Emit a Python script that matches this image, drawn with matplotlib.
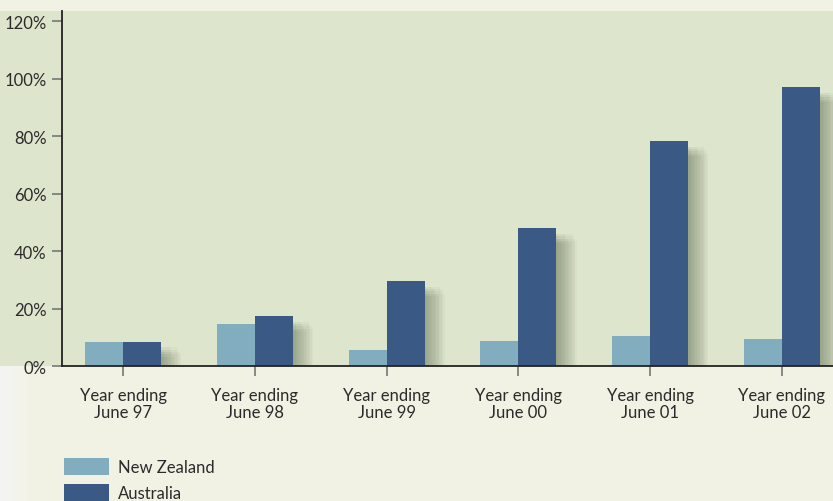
import matplotlib
matplotlib.use("Agg")
import matplotlib.pyplot as plt
import numpy as np
from matplotlib.patches import Rectangle, Patch

categories = ["Year ending\nJune 97", "Year ending\nJune 98", "Year ending\nJune 99",
              "Year ending\nJune 00", "Year ending\nJune 01", "Year ending\nJune 02"]
new_zealand = [8.6, 14.7, 5.7, 8.8, 10.5, 9.5]
australia = [8.6, 17.5, 29.7, 48.0, 78.4, 97.2]
series_names = ["New Zealand", "Australia"]
yticks = [0, 20, 40, 60, 80, 100, 120]

c_nz = "#82ADBE"
c_au = "#3A5A85"
c_green = "#DDE6CC"
c_cream = "#F1F2E4"

plt.rcParams['font.family'] = ['Lato', 'DejaVu Sans']

W, H = 833, 502
fig = plt.figure(figsize=(W/100, H/100), dpi=100)
fig.patch.set_facecolor(c_cream)
fig.add_artist(Rectangle((0, 1 - 367.3/H), 1, (367.3-11.7)/H, transform=fig.transFigure,
                         facecolor=c_green, edgecolor='none', zorder=0))
for i in range(15):
    fig.add_artist(Rectangle((0, 0), (30 - i*2)/W, 1 - 367.3/H, transform=fig.transFigure,
                             facecolor='white', alpha=0.08, edgecolor='none', zorder=0))

ax = fig.add_axes([62/W, 1 - 367.3/H, 1 - 62/W, (367.3-11.7)/H])
ax.set_facecolor('none')
x = np.arange(len(categories))
bw = 38/131.8

# soft drop shadows
au_arr = np.array(australia)
nz_arr = np.array(new_zealand)
for k in range(14):
    off = 0.01 + k*0.011
    drop = 2.0 + (k % 5) * 0.8
    ax.bar(x + bw/2 + off, np.maximum(au_arr - drop, 0), bw, color='#4E5A40',
           alpha=0.04, zorder=1, linewidth=0)
    ax.bar(x - bw/2 + off, np.maximum(nz_arr - drop, 0), bw, color='#4E5A40',
           alpha=0.012, zorder=1, linewidth=0)

ax.bar(x - bw/2, new_zealand, bw, color=c_nz, zorder=3, linewidth=0)
ax.bar(x + bw/2, australia, bw, color=c_au, zorder=3, linewidth=0)

ax.set_xlim(-0.463, 5.387)
ax.set_ylim(0, 123.7)
ax.set_yticks(yticks)
ax.set_yticklabels([f"{v}%" for v in yticks], fontsize=12, color='#2b2b2b')
ax.set_xticks(x)
ax.set_xticklabels(categories, fontsize=12, color='#2b2b2b', linespacing=1.05)
ax.tick_params(axis='y', length=7, width=1.2, color='#777777', pad=4)
ax.tick_params(axis='x', length=7, width=1.2, color='#777777', pad=8)
for s in ['top', 'right']:
    ax.spines[s].set_visible(False)
for s in ['left', 'bottom']:
    ax.spines[s].set_color('#222222')
    ax.spines[s].set_linewidth(1.3)
    ax.spines[s].set_zorder(5)

handles = [Patch(facecolor=c_nz, edgecolor='none'), Patch(facecolor=c_au, edgecolor='none')]
fig.legend(handles, series_names, loc='upper left', bbox_to_anchor=(57/W, 1 - 452/H),
           frameon=False, fontsize=12, handlelength=2.7, handleheight=1.2,
           labelspacing=0.55, handletextpad=0.55, borderaxespad=0, labelcolor='#2b2b2b')

fig.savefig("out.png", dpi=100, facecolor=fig.get_facecolor())
